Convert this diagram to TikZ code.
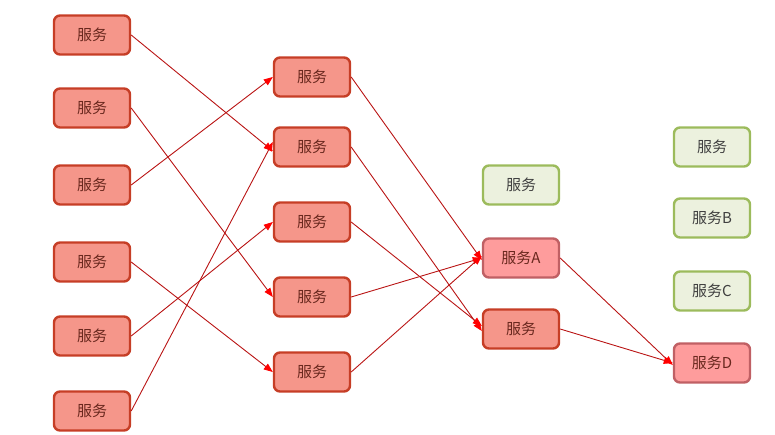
\documentclass[tikz,border=0pt]{standalone}
\usepackage{fontspec}
\setmainfont{Noto Sans CJK SC}
\usetikzlibrary{arrows.meta}
\definecolor{boxred}{RGB}{245,150,138}
\definecolor{edgered}{RGB}{198,62,38}
\definecolor{boxpink}{RGB}{254,156,156}
\definecolor{edgepink}{RGB}{192,96,100}
\definecolor{boxgreen}{RGB}{236,241,222}
\definecolor{edgegreen}{RGB}{156,187,92}
\definecolor{linered}{RGB}{185,20,20}
\definecolor{textred}{RGB}{105,40,30}
\tikzset{
	svc/.style={draw=edgered, fill=boxred, line width=2.4pt, rounded corners=6pt,
		minimum width=76pt, minimum height=39pt, text=textred, font=\fontsize{15}{15}\selectfont},
	svcpink/.style={svc, draw=edgepink, fill=boxpink},
	svcgreen/.style={svc, draw=edgegreen, fill=boxgreen, text=black!75},
	call/.style={draw=linered, line width=0.9pt, -{Triangle[length=9pt,width=7pt,fill=red,color=red]}}
}
\begin{document}
\begin{tikzpicture}[x=1pt, y=-1pt]
			\useasboundingbox (0,0) rectangle (775,434);
			% first column
			\node[svc] (a1) at (92,35) {服务};
			\node[svc] (a2) at (92,108) {服务};
			\node[svc] (a3) at (92,185) {服务};
			\node[svc] (a4) at (92,262) {服务};
			\node[svc] (a5) at (92,336) {服务};
			\node[svc] (a6) at (92,411) {服务};
			% second column
			\node[svc] (b1) at (312,77) {服务};
			\node[svc] (b2) at (312,147) {服务};
			\node[svc] (b3) at (312,222) {服务};
			\node[svc] (b4) at (312,297) {服务};
			\node[svc] (b5) at (312,372) {服务};
			% third column
			\node[svcgreen] (c1) at (521,185) {服务};
			\node[svcpink] (cA) at (521,258) {服务A};
			\node[svc] (c3) at (521,329) {服务};
			% fourth column
			\node[svcgreen] (d1) at (712,147) {服务};
			\node[svcgreen] (dB) at (712,218) {服务B};
			\node[svcgreen] (dC) at (712,291) {服务C};
			\node[svcpink] (dD) at (712,363) {服务D};
			% calls
			\draw[call] (a1.east) -- ([yshift=-4pt]b2.west);
			\draw[call] (a2.east) -- (b4.west);
			\draw[call] (a3.east) -- (b1.west);
			\draw[call] (a4.east) -- (b5.west);
			\draw[call] (a5.east) -- (b3.west);
			\draw[call] (a6.east) -- ([yshift=5pt]b2.west);
			\draw[call] (b1.east) -- ([yshift=-2pt]cA.west);
			\draw[call] (b2.east) -- ([yshift=-2pt]c3.west);
			\draw[call] (b3.east) -- ([yshift=3pt]c3.west);
			\draw[call] (b4.east) -- (cA.west);
			\draw[call] (b5.east) -- ([yshift=2pt]cA.west);
			\draw[call] (cA.east) -- ([yshift=-2pt]dD.west);
			\draw[call] (c3.east) -- (dD.west);
		\end{tikzpicture}
\end{document}
